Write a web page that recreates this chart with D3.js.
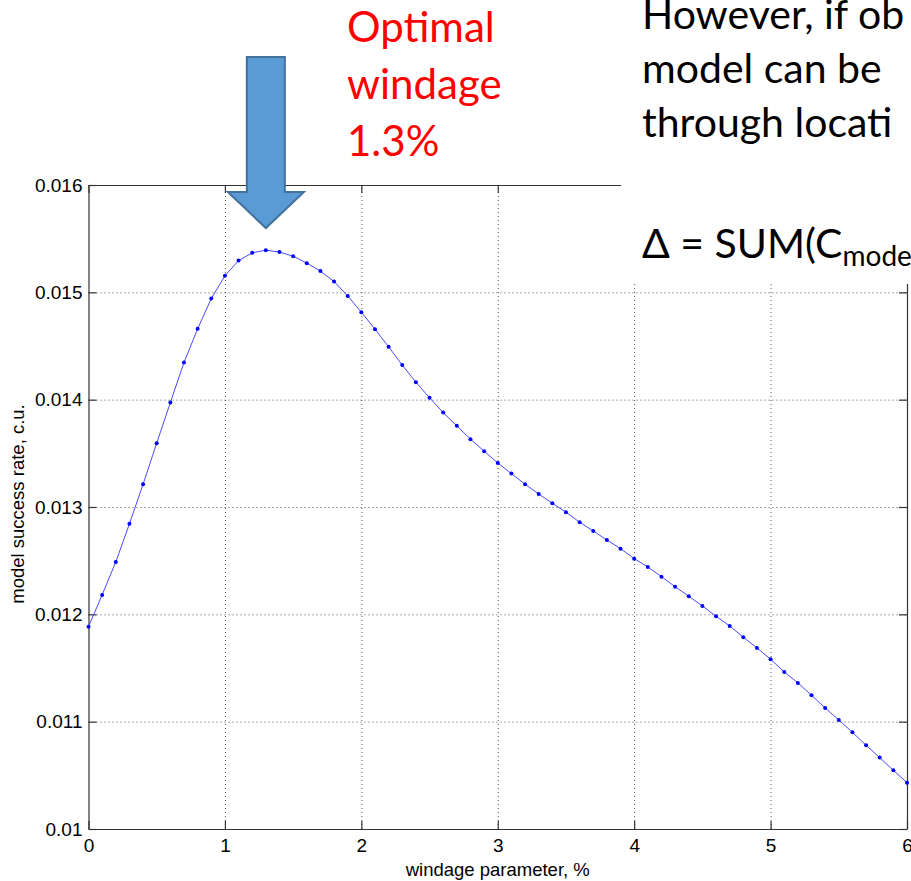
<!DOCTYPE html>
<html>
<head>
<meta charset="utf-8">
<script src="https://cdn.jsdelivr.net/npm/d3@7"></script>
<style>
body { margin: 0; background: #fff; }
</style>
</head>
<body>
<div id="chart"></div>
<script>
// windage parameter, % (x) and model success rate (y)
var windage = [0.0, 0.1, 0.2, 0.3, 0.4, 0.5, 0.6, 0.7, 0.8, 0.9,
    1.0, 1.1, 1.2, 1.3, 1.4, 1.5, 1.6, 1.7, 1.8, 1.9,
    2.0, 2.1, 2.2, 2.3, 2.4, 2.5, 2.6, 2.7, 2.8, 2.9,
    3.0, 3.1, 3.2, 3.3, 3.4, 3.5, 3.6, 3.7, 3.8, 3.9,
    4.0, 4.1, 4.2, 4.3, 4.4, 4.5, 4.6, 4.7, 4.8, 4.9,
    5.0, 5.1, 5.2, 5.3, 5.4, 5.5, 5.6, 5.7, 5.8, 5.9, 6.0];
var successRate = [0.011885, 0.012181, 0.012488, 0.012843, 0.013212, 0.013595, 0.013973, 0.014346, 0.014660, 0.014942,
    0.015154, 0.015296, 0.015368, 0.015393, 0.015375, 0.015337, 0.015272, 0.015198, 0.015101, 0.014967,
    0.014815, 0.014657, 0.014492, 0.014322, 0.014163, 0.014017, 0.013880, 0.013756, 0.013632, 0.013520,
    0.013411, 0.013311, 0.013212, 0.013122, 0.013035, 0.012952, 0.012858, 0.012777, 0.012693, 0.012612,
    0.012519, 0.012442, 0.012351, 0.012258, 0.012169, 0.012078, 0.011982, 0.011892, 0.011787, 0.011687,
    0.011582, 0.011463, 0.011361, 0.011246, 0.011128, 0.011016, 0.010901, 0.010780, 0.010665, 0.010547, 0.010432];

var xTicks = [0, 1, 2, 3, 4, 5, 6];
var yTicks = [0.010, 0.011, 0.012, 0.013, 0.014, 0.015, 0.016];

var optimalWindage = 1.3;
var annotationLines = ["Optimal", "windage", "1.3%"];
var slideLines = ["However, if ob", "model can be", "through locati"];

// svg size
var svgWidth = 911;
var svgHeight = 881;

var margin = { top: 185, right: 4, bottom: 52, left: 88.5 };
var width = svgWidth - margin.left - margin.right;
var height = svgHeight - margin.top - margin.bottom;

var svg = d3.select("#chart")
    .append("svg")
    .attr("width", svgWidth)
    .attr("height", svgHeight)
    .style("display", "block");

var chartGroup = svg.append("g")
    .attr("transform", `translate(${margin.left}, ${margin.top})`);

var xScale = d3.scaleLinear().domain([0, 6]).range([0, width]);
var yScale = d3.scaleLinear().domain([0.010, 0.016]).range([height, 0]);

var axisFont = "'Liberation Sans', Arial, sans-serif";

// dotted grid
chartGroup.append("g")
    .attr("class", "grid")
    .attr("transform", `translate(0, ${height})`)
    .call(d3.axisBottom(xScale).tickValues([1, 2, 3, 4, 5]).tickSize(-height).tickFormat(""));
chartGroup.append("g")
    .attr("class", "grid")
    .call(d3.axisLeft(yScale).tickValues([0.011, 0.012, 0.013, 0.014, 0.015]).tickSize(-width).tickFormat(""));
chartGroup.selectAll(".grid .domain").remove();
chartGroup.selectAll(".grid line")
    .attr("stroke", "#555")
    .attr("stroke-width", 1)
    .attr("stroke-dasharray", "1,3");

// axes with inward ticks (box on all four sides)
var bottomAxis = d3.axisBottom(xScale).tickValues(xTicks).tickSizeInner(-8).tickSizeOuter(0).tickPadding(10)
    .tickFormat(d3.format("d"));
var leftAxis = d3.axisLeft(yScale).tickValues(yTicks).tickSizeInner(-8).tickSizeOuter(0).tickPadding(6)
    .tickFormat(d3.format(".3~f"));
var topAxis = d3.axisTop(xScale).tickValues(xTicks).tickSizeInner(-8).tickSizeOuter(0).tickFormat("");
var rightAxis = d3.axisRight(yScale).tickValues(yTicks).tickSizeInner(-8).tickSizeOuter(0).tickFormat("");

chartGroup.append("g").attr("class", "axis")
    .attr("transform", `translate(0, ${height})`)
    .call(bottomAxis);
chartGroup.append("g").attr("class", "axis")
    .call(leftAxis);
chartGroup.append("g").attr("class", "axis")
    .call(topAxis);
chartGroup.append("g").attr("class", "axis")
    .attr("transform", `translate(${width}, 0)`)
    .call(rightAxis);

chartGroup.selectAll(".axis .domain").attr("stroke", "#333").attr("stroke-width", 1.2);
chartGroup.selectAll(".axis line").attr("stroke", "#333").attr("stroke-width", 1.2);
chartGroup.selectAll(".axis text")
    .attr("fill", "#000")
    .style("font-family", axisFont)
    .style("font-size", "19px");

// axis titles
chartGroup.append("text")
    .attr("x", width / 2)
    .attr("y", height + 47)
    .attr("text-anchor", "middle")
    .style("font-family", axisFont)
    .style("font-size", "18.5px")
    .text("windage parameter, %");

chartGroup.append("text")
    .attr("transform", `translate(${-65}, ${height / 2 - 3}) rotate(-90)`)
    .attr("text-anchor", "middle")
    .style("font-family", axisFont)
    .style("font-size", "18.5px")
    .text("model success rate, c.u.");

// curve and markers
var points = windage.map((w, i) => ({ x: w, y: successRate[i] }));

var line = d3.line()
    .x(d => xScale(d.x))
    .y(d => yScale(d.y));

chartGroup.append("path")
    .datum(points)
    .attr("fill", "none")
    .attr("stroke", "#4a4aff")
    .attr("stroke-width", 1)
    .attr("d", line);

chartGroup.selectAll(".dot")
    .data(points)
    .enter()
    .append("circle")
    .attr("class", "dot")
    .attr("cx", d => xScale(d.x))
    .attr("cy", d => yScale(d.y))
    .attr("r", 2)
    .attr("fill", "#0000ff");

// slide text box covering the top right of the figure
svg.append("rect")
    .attr("x", 621)
    .attr("y", 0)
    .attr("width", svgWidth - 621)
    .attr("height", 284)
    .attr("fill", "#fff");

var slideFont = "Lato, 'Open Sans', sans-serif";

svg.append("text")
    .style("font-family", slideFont)
    .style("font-size", "41px")
    .attr("fill", "#000")
    .selectAll("tspan")
    .data(slideLines)
    .enter()
    .append("tspan")
    .attr("x", 642)
    .attr("y", (d, i) => 29 + i * 54)
    .text(d => d);

var formula = svg.append("text")
    .attr("x", 642)
    .attr("y", 258)
    .style("font-family", slideFont)
    .style("font-size", "41px")
    .attr("fill", "#000");
formula.append("tspan").text("\u0394 = SUM(C");
formula.append("tspan")
    .attr("dy", 8)
    .style("font-size", "28px")
    .text("model");

// annotation
svg.append("text")
    .style("font-family", slideFont)
    .style("font-size", "42px")
    .attr("fill", "#ff0000")
    .selectAll("tspan")
    .data(annotationLines)
    .enter()
    .append("tspan")
    .attr("x", 347)
    .attr("y", (d, i) => 42 + i * 57)
    .text(d => d);

// arrow pointing at the optimum
var tipX = margin.left + xScale(optimalWindage);
var tipY = 228, topY = 57, headY = 192, shaftHalf = 19, headHalf = 38;
var arrowPts = [
    [tipX - shaftHalf, topY], [tipX + shaftHalf, topY], [tipX + shaftHalf, headY],
    [tipX + headHalf, headY], [tipX, tipY], [tipX - headHalf, headY], [tipX - shaftHalf, headY]
];
svg.append("path")
    .attr("d", d3.line()(arrowPts) + "Z")
    .attr("fill", "#5b9bd5")
    .attr("stroke", "#41719c")
    .attr("stroke-width", 2)
    .attr("stroke-linejoin", "miter");
</script>
</body>
</html>
